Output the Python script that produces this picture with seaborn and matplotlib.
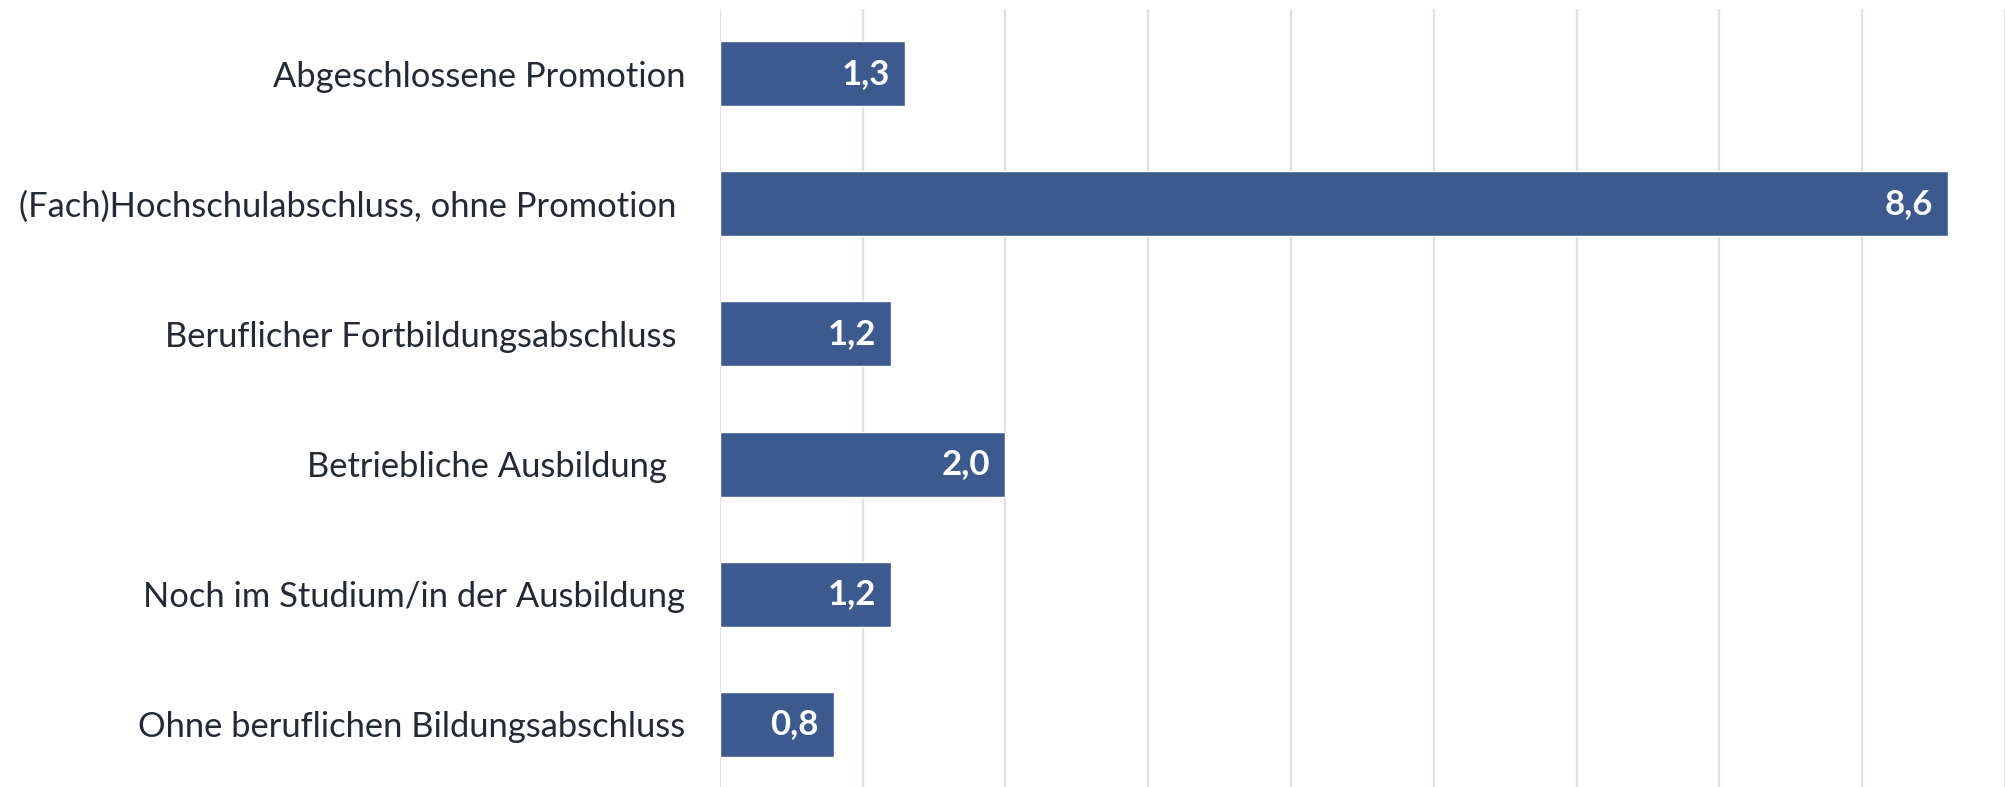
import pandas as pd
import numpy as np
import matplotlib.pyplot as plt
import seaborn as sns

# Kategorien und Werte
categories = [
    "Abgeschlossene Promotion",
    "(Fach)Hochschulabschluss, ohne Promotion ",
    "Beruflicher Fortbildungsabschluss ",
    "Betriebliche Ausbildung  ",
    "Noch im Studium/in der Ausbildung",
    "Ohne beruflichen Bildungsabschluss",
]
values = [1.3, 8.6, 1.2, 2.0, 1.2, 0.8]

df = pd.DataFrame({"kategorie": categories, "wert": values})

sns.set_theme(style="white")
plt.rcParams["font.family"] = ["Lato", "DejaVu Sans"]

bar_color = "#3D5A8E"
grid_color = "#DCE1EA"

fig = plt.figure(figsize=(20.05, 7.87), dpi=100)
ax = fig.add_axes([0.359, -0.003, 0.641, 0.992])

sns.barplot(data=df, x="wert", y="kategorie", orient="h", color=bar_color,
            saturation=1, width=0.5, ax=ax)

ax.set_xlim(0, 9)
ax.set_xticks(np.arange(0, 10, 1))
ax.set_xticklabels([])
ax.grid(axis="x", color=grid_color, linewidth=1.6)
ax.set_axisbelow(True)
for s in ax.spines.values():
    s.set_visible(False)
ax.set_xlabel("")
ax.set_ylabel("")
ax.tick_params(axis="both", length=0)
ax.tick_params(axis="y", pad=25, labelsize=24.8, labelcolor="#222A35")

# Wertebeschriftungen innerhalb der Balken
for bar, v in zip(ax.patches, values):
    ax.annotate(f"{v:.1f}".replace(".", ","),
                xy=(bar.get_width(), bar.get_y() + bar.get_height() / 2),
                xytext=(-11, 0), textcoords="offset points",
                ha="right", va="center", color="white",
                fontsize=25, fontweight="bold")

fig.savefig("out.png", dpi=100)
